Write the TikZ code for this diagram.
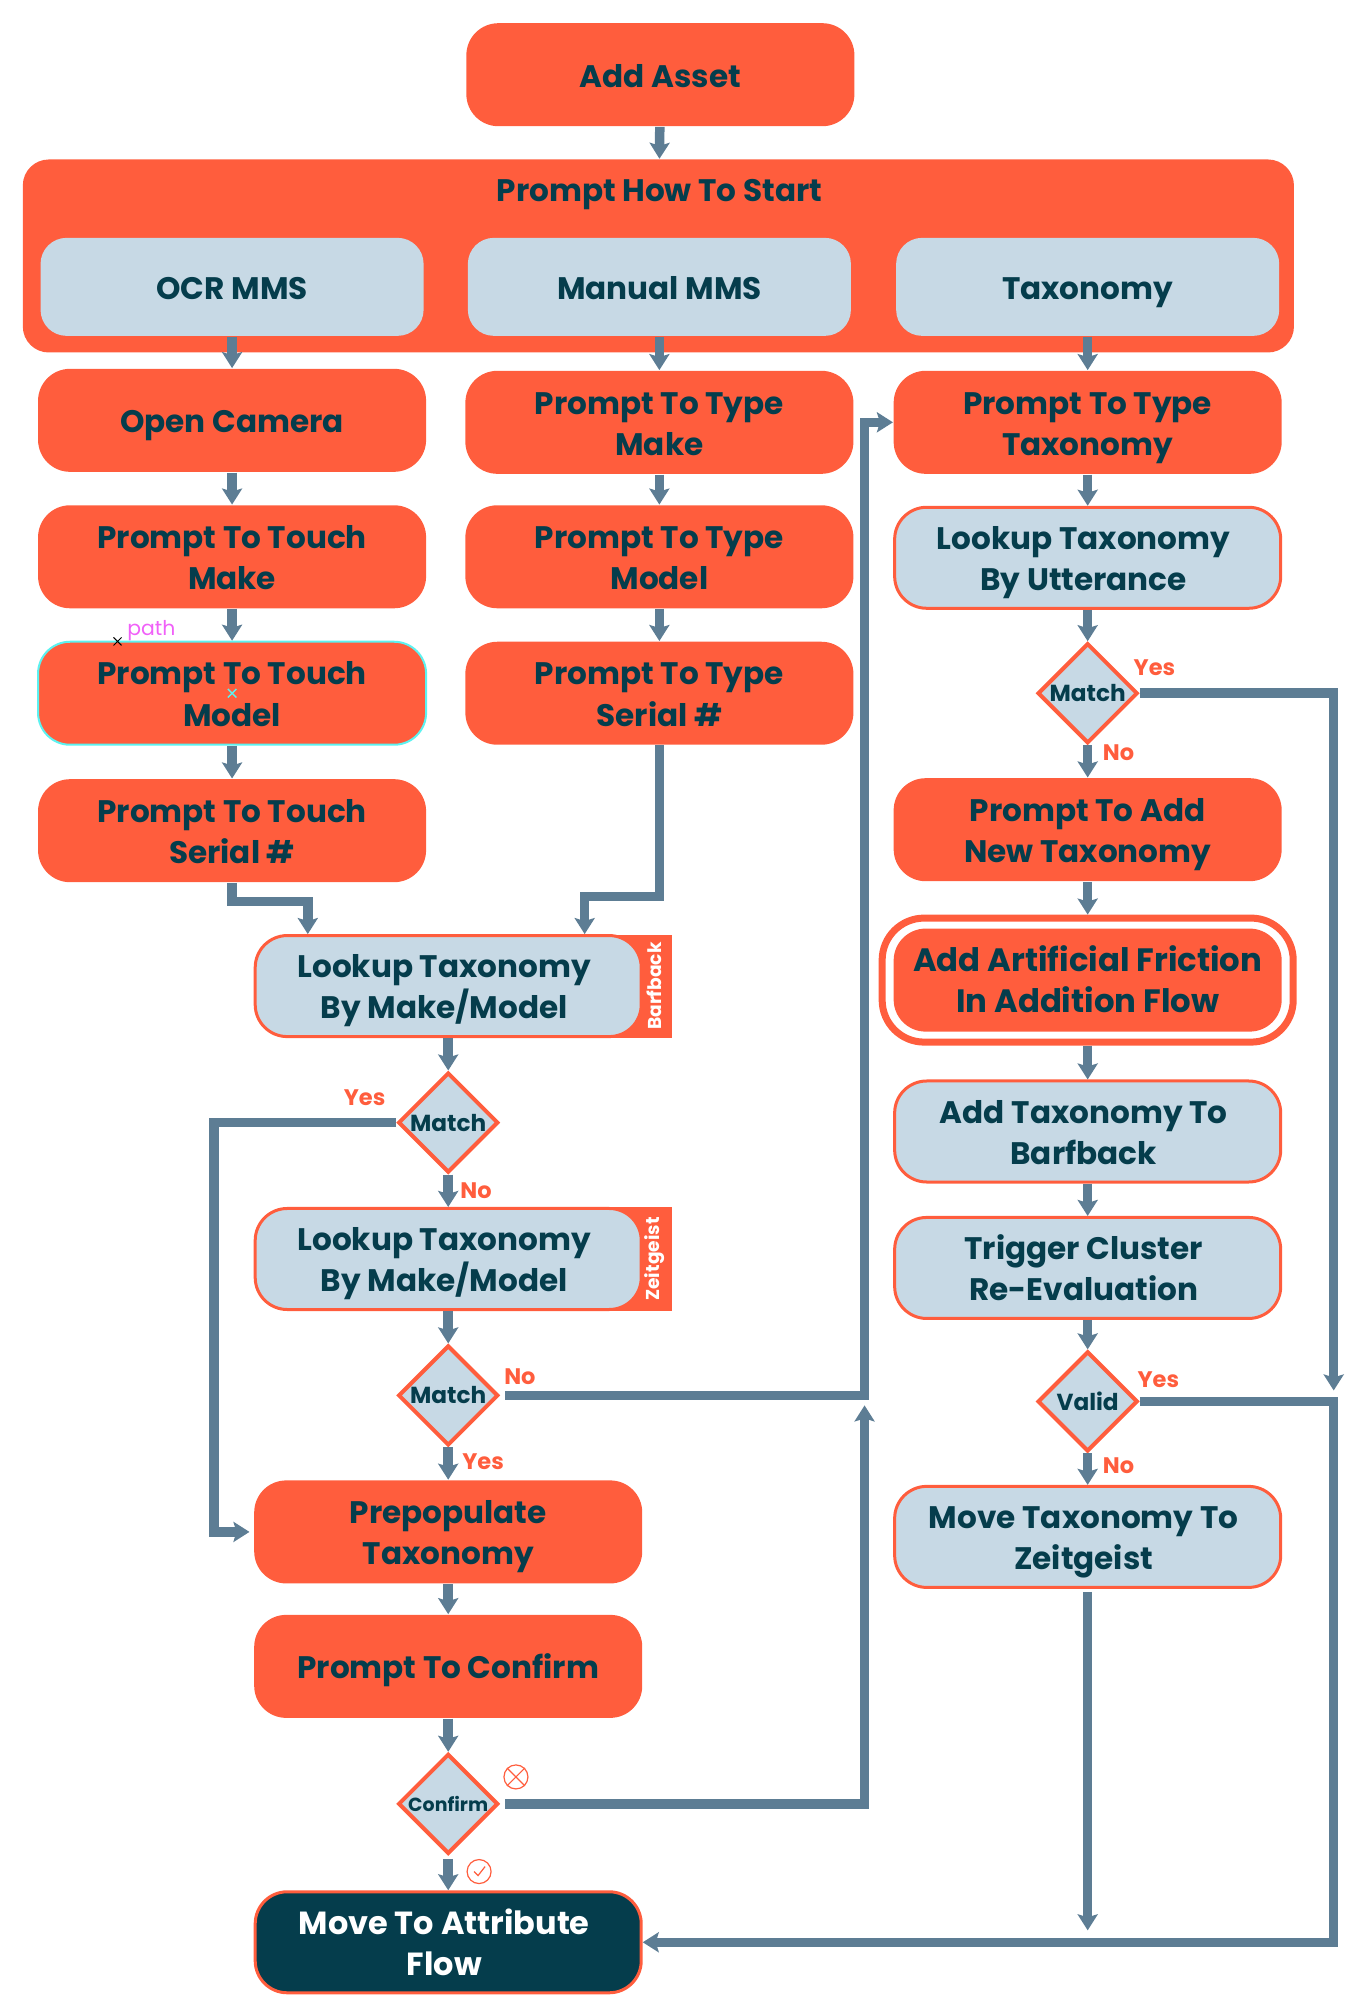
\documentclass[tikz,border=0pt]{standalone}
\usepackage{fontspec}
\setmainfont{Poppins}
\usetikzlibrary{arrows.meta,shapes.geometric,shapes.misc}
\definecolor{boxorange}{HTML}{FF5D3D}
\definecolor{boxblue}{HTML}{C7D9E5}
\definecolor{boxdark}{HTML}{053D4C}
\definecolor{flowblue}{HTML}{5D7D94}
\definecolor{markcyan}{HTML}{5CF2F0}
\definecolor{markpink}{HTML}{F060F8}
\newcommand{\nudge}{\hspace*{0.8mm}}
\newcommand{\topstrut}{\rule{0pt}{10.5pt}}
\newcommand{\bottomstrut}{\rule[-3.5pt]{0pt}{3.5pt}}
\newcommand{\twolines}[2]{\topstrut #1\\#2}
\begin{document}
\begin{tikzpicture}[x=0.0996mm, y=-0.0996mm, inner sep=0pt]
		\tikzstyle{every node}=[align=center, text=boxdark, font=\fontsize{8.85}{11.7}\selectfont\bfseries]
		\tikzstyle{boxtext}=[execute at begin node=\topstrut, execute at end node=\bottomstrut]
		\tikzstyle{orangebox}=[boxtext, rectangle, rounded corners=3.2mm, fill=boxorange, minimum width=38.8mm, minimum height=10.3mm]
		\tikzstyle{bluebox}=[boxtext, rectangle, rounded corners=3.2mm, fill=boxblue, draw=boxorange, line width=0.3mm, minimum width=38.6mm, minimum height=10.1mm]
		\tikzstyle{optionbox}=[boxtext, rectangle, rounded corners=2.6mm, fill=boxblue, minimum width=38.3mm, minimum height=9.8mm]
		\tikzstyle{darkbox}=[bluebox, fill=boxdark, text=white]
		\tikzstyle{tagbox}=[rectangle, fill=boxorange, minimum width=7.1mm, minimum height=10.3mm, anchor=east]
		\tikzstyle{tagtext}=[rotate=90, text=white, font=\fontsize{5.3}{6}\selectfont\bfseries]
		\tikzstyle{decision}=[diamond, shape aspect=1, fill=boxblue, draw=boxorange, line width=0.4mm, minimum size=10mm, font=\fontsize{6.6}{7}\selectfont\bfseries]
		\tikzstyle{answer}=[text=boxorange, font=\fontsize{6.4}{7}\selectfont\bfseries]
		\tikzstyle{flow}=[draw=flowblue, line width=0.95mm, -{Stealth[length=1.6mm, width=2mm, inset=0.3mm]}]
		\tikzstyle{icon}=[circle, draw=boxorange, line width=0.12mm, minimum size=2.4mm]

		\useasboundingbox (0, 0) rectangle (1367.5, 2016);

		% top of the flow
		\node[orangebox] (asset) at (663, 75) {Add Asset};
		\node[rectangle, rounded corners=2.6mm, fill=boxorange, minimum width=127.1mm, minimum height=19.3mm] (howto) at (661, 257) {};
		\node[boxtext] (howtitle) at (662, 190) {Prompt How To Start};
		\node[optionbox] (ocr) at (233, 288) {OCR MMS};
		\node[optionbox] (manual) at (662, 288) {Manual MMS};
		\node[optionbox] (taxonomy) at (1092, 288) {Taxonomy};

		% left column
		\node[orangebox] (opencam) at (233, 422) {Open Camera};
		\node[orangebox] (touchmake) at (233, 559) {\twolines{Prompt To Touch}{Make}};
		\node[orangebox, draw=markcyan, line width=0.2mm] (touchmodel) at (233, 696) {\twolines{Prompt To Touch}{Model}};
		\node[orangebox] (touchserial) at (233, 834) {\twolines{Prompt To Touch}{Serial \#}};
		\node[text=markpink, font=\fontsize{5.8}{7}\selectfont] (pathlabel) at (152, 633) {path};
		\node[cross out, draw=black, line width=0.1mm, minimum size=0.7mm] (pathmark) at (118, 644) {};
		\node[cross out, draw=markcyan, line width=0.15mm, minimum size=0.7mm] (centermark) at (233, 696) {};

		% middle column
		\node[orangebox] (typemake) at (662, 424) {\twolines{Prompt To Type}{Make}};
		\node[orangebox] (typemodel) at (662, 559) {\twolines{Prompt To Type}{Model}};
		\node[orangebox] (typeserial) at (662, 696) {\twolines{Prompt To Type}{Serial \#}};

		% right column
		\node[orangebox] (typetax) at (1092, 424) {\twolines{Prompt To Type}{Taxonomy}};
		\node[bluebox] (lookuputter) at (1092, 560) {\twolines{Lookup Taxonomy\nudge}{By Utterance\nudge}};
		\node[decision] (matchtax) at (1092, 696) {Match};
		\node[orangebox] (addnew) at (1092, 833) {\twolines{Prompt To Add}{New Taxonomy}};
		\node[rectangle, rounded corners=4.2mm, draw=boxorange, line width=0.7mm, minimum width=41.1mm, minimum height=12.4mm] (frictionring) at (1092, 984) {};
		\node[orangebox, font=\fontsize{9.2}{11.7}\selectfont\bfseries] (friction) at (1092, 984) {\twolines{Add Artificial Friction}{In Addition Flow}};
		\node[bluebox] (addbarfback) at (1092, 1136) {\twolines{Add Taxonomy To\nudge}{Barfback\nudge}};
		\node[bluebox] (trigger) at (1092, 1273) {\twolines{Trigger Cluster\nudge}{Re-Evaluation\nudge}};
		\node[decision] (valid) at (1092, 1407) {Valid};
		\node[bluebox] (movezg) at (1092, 1543) {\twolines{Move Taxonomy To\nudge}{Zeitgeist\nudge}};

		% lower column
		\node[tagbox] (bbtag) at (675, 990) {};
		\node[bluebox] (lookupbb) at (450, 990) {\twolines{Lookup Taxonomy\nudge}{By Make/Model\nudge}};
		\node[tagtext] (bbtext) at (657, 990) {Barfback};
		\node[decision] (matchbb) at (450, 1127) {Match};
		\node[tagbox] (zgtag) at (675, 1264) {};
		\node[bluebox] (lookupzg) at (450, 1264) {\twolines{Lookup Taxonomy\nudge}{By Make/Model\nudge}};
		\node[tagtext] (zgtext) at (657, 1264) {Zeitgeist};
		\node[decision] (matchzg) at (450, 1401) {Match};
		\node[orangebox] (prepop) at (450, 1538) {\twolines{Prepopulate}{Taxonomy}};
		\node[orangebox] (confirmask) at (450, 1673) {Prompt To Confirm};
		\node[decision, font=\fontsize{5.4}{7}\selectfont\bfseries] (confirm) at (450, 1811) {Confirm};
		\node[darkbox, font=\fontsize{9.1}{11.7}\selectfont\bfseries] (moveattr) at (450, 1950) {\twolines{Move To Attribute\nudge}{Flow\nudge}};

		% answers
		\node[answer] (yestax) at (1159, 670) {Yes};
		\node[answer] (notax) at (1123, 756) {No};
		\node[answer] (yesbb) at (366, 1102) {Yes};
		\node[answer] (nobb) at (478, 1195) {No};
		\node[answer] (nozg) at (522, 1382) {No};
		\node[answer] (yeszg) at (485, 1467) {Yes};
		\node[answer] (yesvalid) at (1163, 1385) {Yes};
		\node[answer] (novalid) at (1123, 1472) {No};
		\node[icon] (rejecticon) at (518, 1784) {};
		\node[icon] (accepticon) at (481, 1879) {};
		\draw[boxorange, line width=0.12mm] (rejecticon.45) -- (rejecticon.225) (rejecticon.135) -- (rejecticon.315);
		\draw[boxorange, line width=0.12mm] ([shift={(-5, 0)}]accepticon.center) -- ([shift={(-1, 4)}]accepticon.center) -- ([shift={(6, -5)}]accepticon.center);

		% free corners and ends of the long connectors
		\coordinate (leftbend) at (309, 905);
		\coordinate (midbend) at (587, 900);
		\coordinate (yesleft) at (215, 1127);
		\coordinate (nocorner) at (868, 1401);
		\coordinate (retrycorner) at (868, 1811);
		\coordinate (retryend) at (868, 1411);
		\coordinate (yesdrop) at (1339, 1396);
		\coordinate (validbend) at (1339, 1407);
		\coordinate (zgdrop) at (1092, 1938);

		% straight connectors
		\draw[flow] (asset) to (howto);
		\draw[flow] (ocr) to (opencam);
		\draw[flow] (manual) to (typemake);
		\draw[flow] (taxonomy) to (typetax);
		\draw[flow] (opencam) to (touchmake);
		\draw[flow] (touchmake) to (touchmodel);
		\draw[flow] (touchmodel) to (touchserial);
		\draw[flow] (typemake) to (typemodel);
		\draw[flow] (typemodel) to (typeserial);
		\draw[flow] (typetax) to (lookuputter);
		\draw[flow] (lookuputter) to (matchtax);
		\draw[flow] (matchtax) to (addnew);
		\draw[flow] (addnew) to (frictionring);
		\draw[flow] (frictionring) to (addbarfback);
		\draw[flow] (addbarfback) to (trigger);
		\draw[flow] (trigger) to (valid);
		\draw[flow] (valid) to (movezg);
		\draw[flow] (lookupbb) to (matchbb);
		\draw[flow] (matchbb) to (lookupzg);
		\draw[flow] (lookupzg) to (matchzg);
		\draw[flow] (matchzg) to (prepop);
		\draw[flow] (prepop) to (confirmask);
		\draw[flow] (confirmask) to (confirm);
		\draw[flow, shorten <=0.3mm] (confirm) to (moveattr);

		% bent connectors
		\draw[flow] (touchserial.south) |- (leftbend) -- (leftbend |- lookupbb.north);
		\draw[flow] (typeserial.south) |- (midbend) -- (midbend |- lookupbb.north);
		\draw[flow, shorten >=0.4mm] (matchbb.west) -- (yesleft) |- (prepop.west);
		\draw[flow, shorten <=0.5mm] (matchzg.east) -- (nocorner) |- (typetax.west);
		\draw[flow, shorten <=0.5mm] (confirm.east) -- (retrycorner) -- (retryend);
		\draw[flow] (matchtax.east) -| (yesdrop);
		\draw[flow] (valid.east) -- (validbend) |- (moveattr.east);
		\draw[flow, shorten <=0.3mm] (movezg.south) -- (zgdrop);
\end{tikzpicture}
\end{document}
